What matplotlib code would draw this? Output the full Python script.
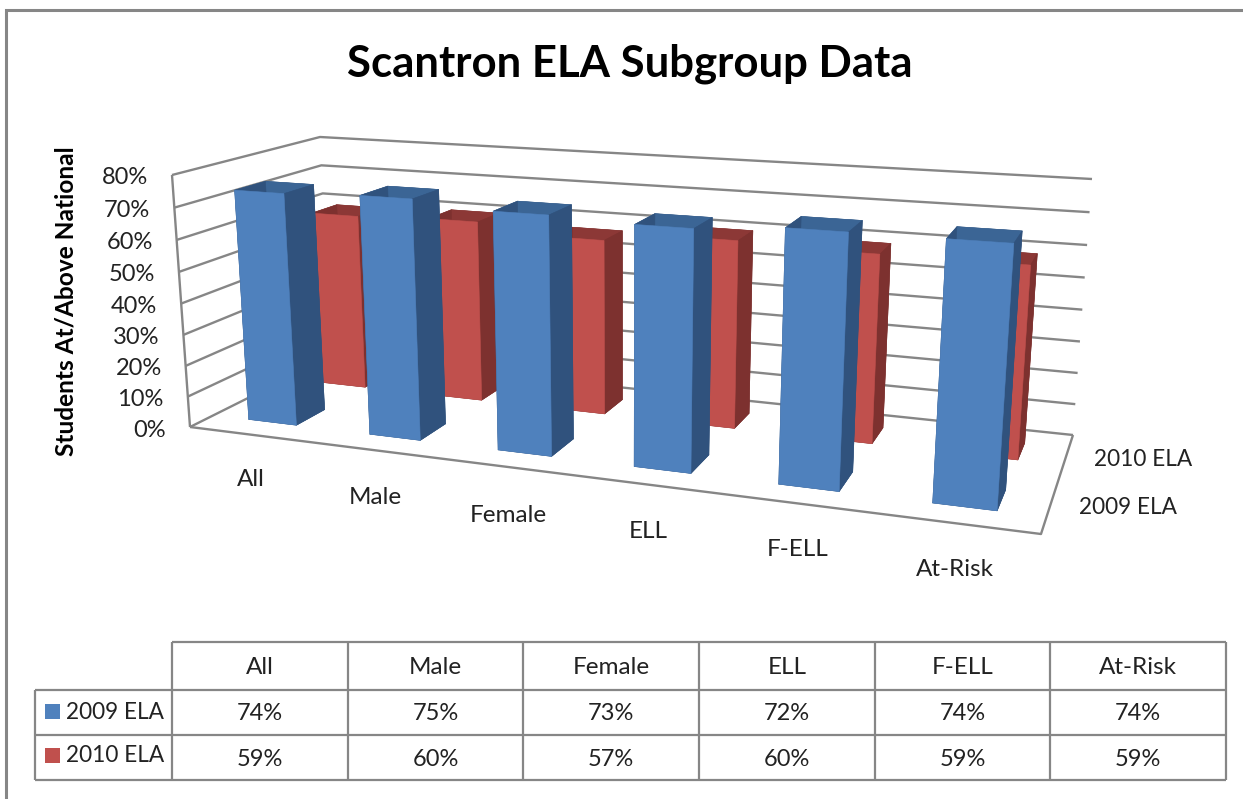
"""Scantron ELA subgroup chart, 3D bars with a data table below."""

import matplotlib

matplotlib.use("Agg")
import matplotlib.pyplot as plt
import numpy as np
from matplotlib.patches import Rectangle
from mpl_toolkits.mplot3d.art3d import Line3DCollection

plt.rcParams["font.family"] = ["Lato", "DejaVu Sans"]

categories = ["All", "Male", "Female", "ELL", "F-ELL", "At-Risk"]
series_names = ["2009 ELA", "2010 ELA"]
values_2009 = [74, 75, 73, 72, 74, 74]
values_2010 = [59, 60, 57, 60, 59, 59]
z_ticks = [0, 10, 20, 30, 40, 50, 60, 70, 80]

W, H = 1243, 799
GRID = "#868686"
TEXT = "#222222"
BLUE = {"front": "#4f81bd", "side": "#30527d", "top": "#3b6595"}
RED = {"front": "#c0504d", "side": "#7d312f", "top": "#8c3836"}

# where the chart box corners sit in the picture: (x, depth, pct) -> (px, py)
BOX_ANCHORS = [
    ((0, 0, 0), (190, 427)),
    ((0, 0, 80), (172, 175)),
    ((6, 0, 0), (1041, 534)),
    ((6, 1, 0), (1073, 435)),
    ((6, 1, 80), (1092, 179)),
    ((0, 1, 80), (320, 137)),
]


def fit_projection(anchors):
    rows = []
    for (x, y, z), (px, py) in anchors:
        rows.append([x, y, z, 1, 0, 0, 0, 0, -px * x, -px * y, -px * z, -px])
        rows.append([0, 0, 0, 0, x, y, z, 1, -py * x, -py * y, -py * z, -py])
    p = np.linalg.svd(np.array(rows, dtype=float))[2][-1].reshape(3, 4)
    p = p / p[2, 3]
    # third row only orders the faces, larger = further back
    return np.vstack([p[0], p[1], [0, 1, 0, 0], p[2]])


def project(M, x, y, z):
    v = M @ np.array([x, y, z, 1.0])
    return v[0] / v[3], v[1] / v[3]


def draw_bars(ax, values, y0, depth, palette, zorder):
    n = len(values)
    face_colors = [
        palette["side"], palette["top"], palette["front"],
        palette["side"], palette["side"], palette["side"],
    ] * n
    ax.bar3d(
        np.arange(n) + 0.3, [y0] * n, [0] * n, 0.4, depth, values,
        color=face_colors, edgecolors=face_colors, linewidth=0.4,
        shade=False, zorder=zorder,
    )


fig = plt.figure(figsize=(W / 100, H / 100), dpi=100, facecolor="white")

ax = fig.add_axes([0, 0, 1, 1], projection="3d", computed_zorder=False)
M = fit_projection(BOX_ANCHORS)
ax.get_proj = lambda: M
ax.apply_aspect = lambda position=None: None
ax.viewLim.intervalx = (0, W)
ax.viewLim.intervaly = (H, 0)
ax.set_axis_off()
ax.patch.set_alpha(0)

nx = len(categories)
segments = []
for tick in z_ticks:
    segments.append([(0, 0, tick), (0, 1, tick), (nx, 1, tick)])
segments.append([(0, 0, 0), (0, 0, 80)])
segments.append([(0, 0, 0), (nx, 0, 0), (nx, 1, 0)])
ax.add_collection3d(
    Line3DCollection(segments, colors=GRID, linewidths=1.7, zorder=1), autolim=False
)

draw_bars(ax, values_2010, 0.66, 0.19, RED, 2)
draw_bars(ax, values_2009, 0.15, 0.20, BLUE, 3)

# flat overlay in picture pixels for text and the data table
top = fig.add_axes([0, 0, 1, 1], facecolor="none")
top.set_xlim(0, W)
top.set_ylim(H, 0)
top.axis("off")

top.plot([6, 6, W], [H, 10, 10], color="#868686", lw=2.2, solid_joinstyle="miter")

top.text(630, 64, "Scantron ELA Subgroup Data", ha="center", va="center",
         fontsize=31.5, fontweight="bold", color="black")
top.text(66, 301, "Students At/Above National", rotation=90, ha="center", va="center",
         fontsize=17.6, fontweight="bold", color="black")

for tick in z_ticks:
    px, py = project(M, 0, 0, tick)
    top.text(px - 24, py + 3, f"{tick}%", ha="right", va="center", fontsize=17, color=TEXT)

category_label_xy = [(251, 480), (375, 497), (508, 516), (648, 531), (798, 550), (955, 570)]
for name, (px, py) in zip(categories, category_label_xy):
    top.text(px, py, name, ha="center", va="center", fontsize=17.5, color=TEXT)

top.text(1128, 508, series_names[0], ha="center", va="center", fontsize=16.3, color=TEXT)
top.text(1143, 459, series_names[1], ha="center", va="center", fontsize=16.3, color=TEXT)

col_x = [172, 348, 523, 699, 875, 1050, 1226]
row_y = [642, 690, 735, 780]
top.hlines(row_y[0], col_x[0], col_x[-1], color=GRID, lw=1.6)
top.hlines(row_y[1:], 35, col_x[-1], color=GRID, lw=1.6)
top.vlines(col_x, row_y[0], row_y[-1], color=GRID, lw=1.6)
top.vlines(35, row_y[1], row_y[-1], color=GRID, lw=1.6)

for i, name in enumerate(categories):
    xc = (col_x[i] + col_x[i + 1]) / 2
    top.text(xc, 667, name, ha="center", va="center", fontsize=17.5, color=TEXT)
    top.text(xc, 714, f"{values_2009[i]}%", ha="center", va="center", fontsize=17, color=TEXT)
    top.text(xc, 759, f"{values_2010[i]}%", ha="center", va="center", fontsize=17, color=TEXT)

for name, palette, yc in zip(series_names, [BLUE, RED], [711.5, 755]):
    top.add_patch(Rectangle((45, yc - 7.5), 15, 15, facecolor=palette["front"], edgecolor="none"))
    top.text(66, yc + 1, name, ha="left", va="center", fontsize=16.3, color=TEXT)

fig.savefig("out.png", dpi=100)
